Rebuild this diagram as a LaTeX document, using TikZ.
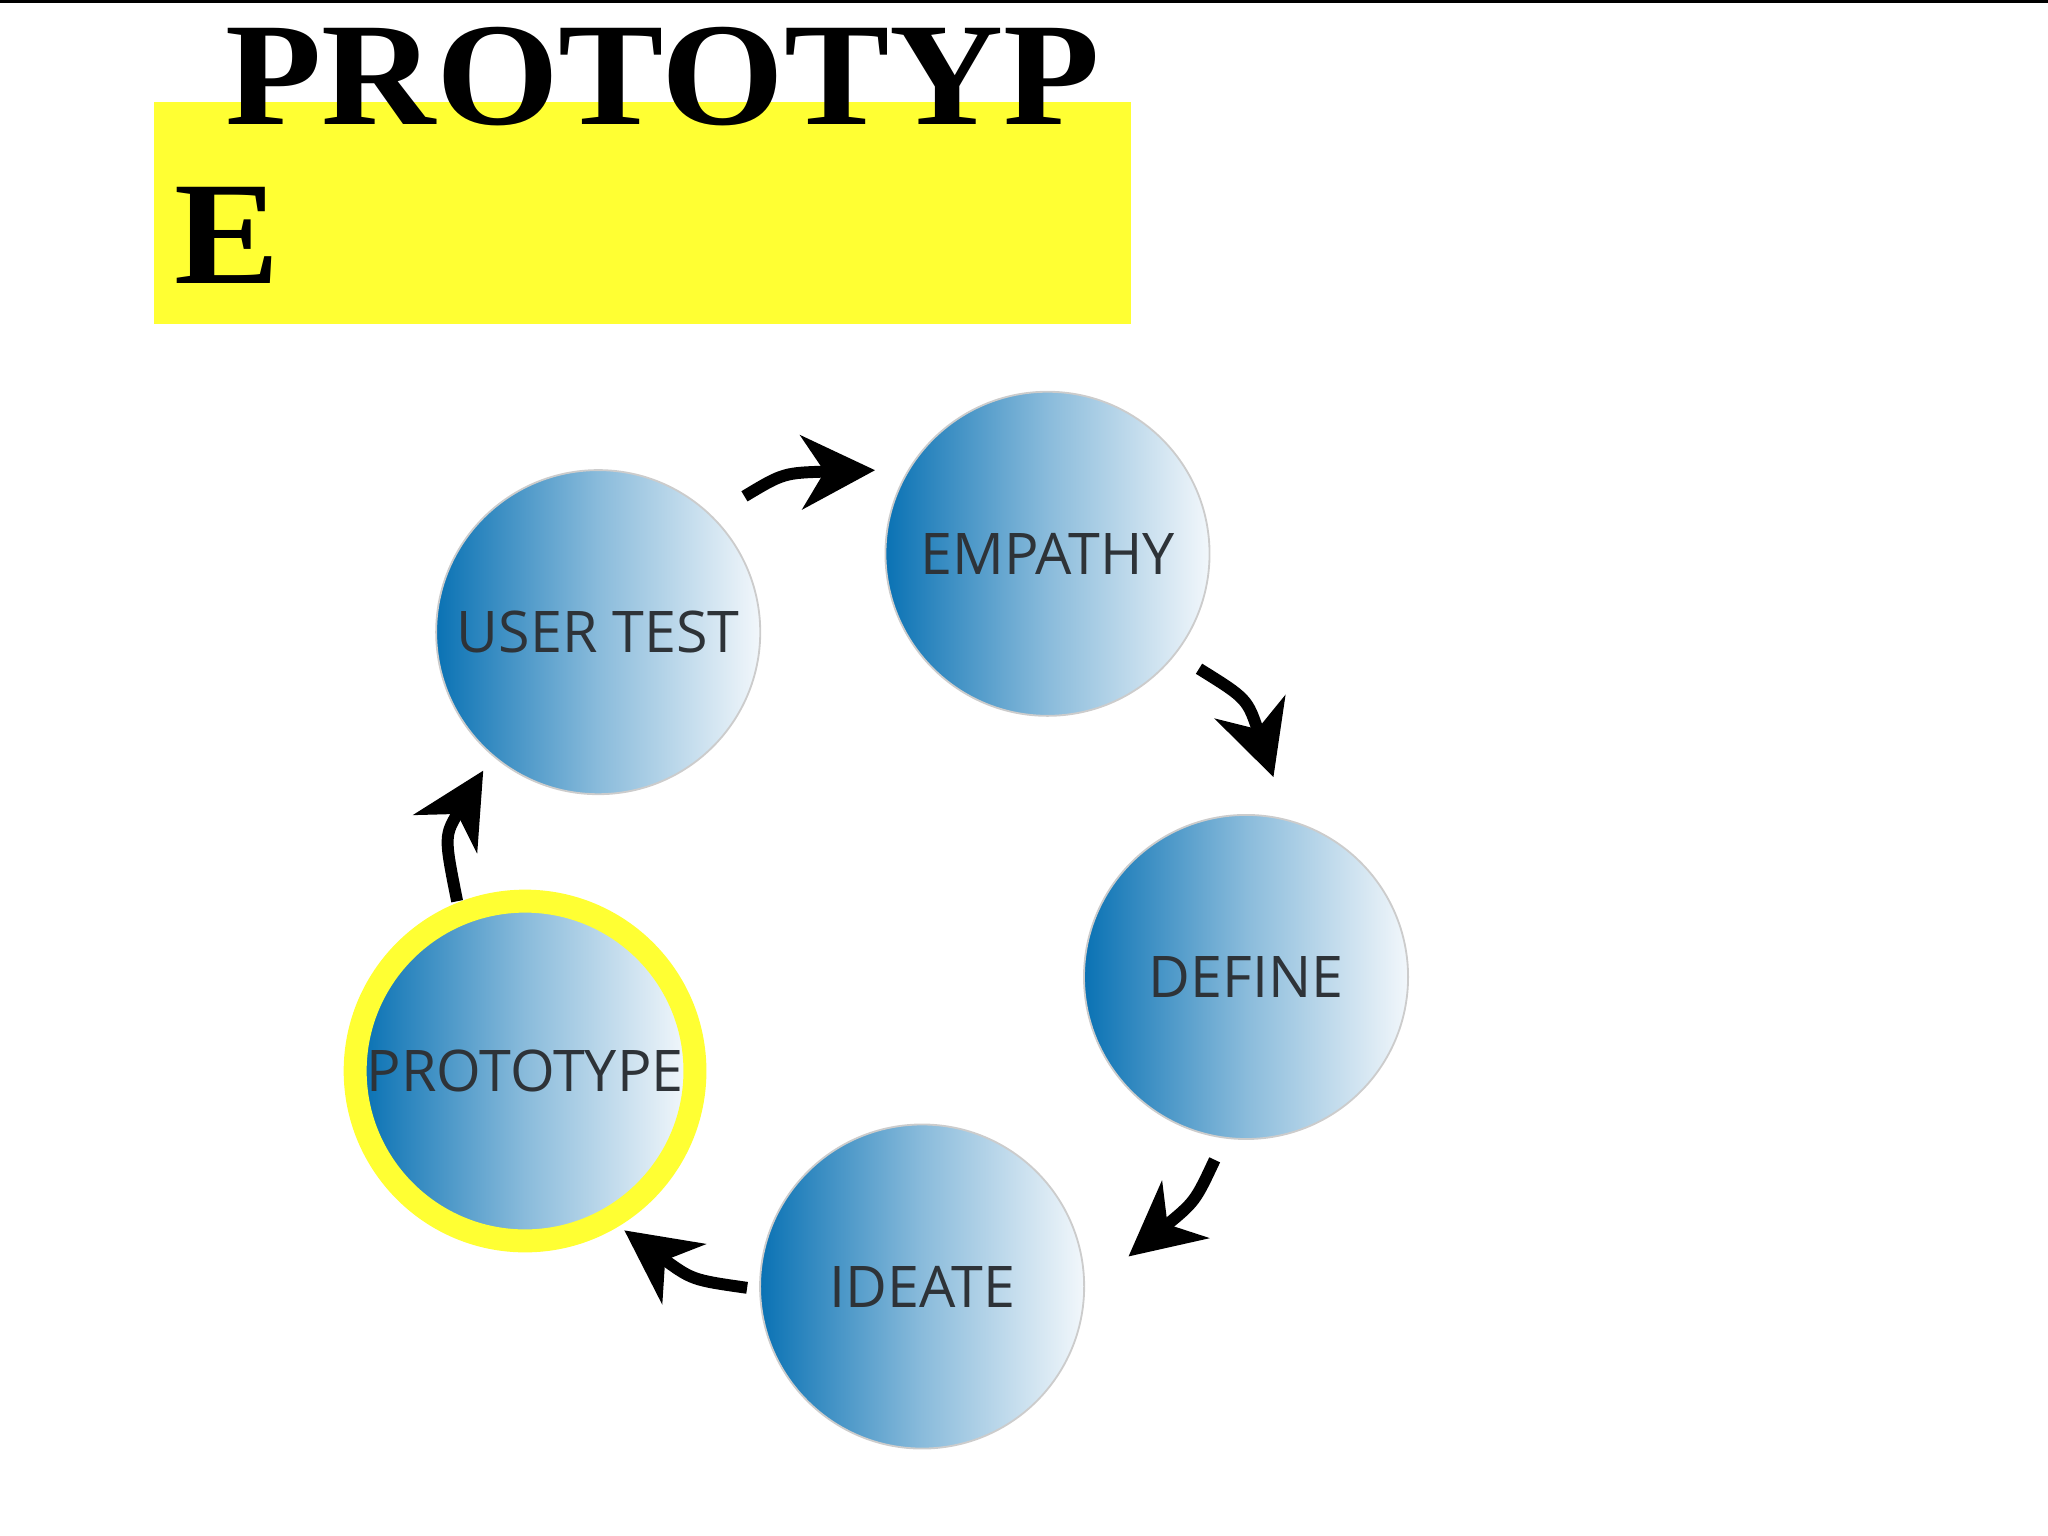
\documentclass[tikz,border=0pt]{standalone}
\usepackage{fontspec}
\setmainfont{Liberation Serif}
\newfontfamily\circfont{Open Sans}
\usetikzlibrary{arrows.meta}
\definecolor{dblue}{HTML}{0A72B4}
\definecolor{lblue}{HTML}{F2F7FB}
\definecolor{txt}{HTML}{2E3338}
\definecolor{yel}{HTML}{FFFF33}
\tikzset{
  ball/.style={circle,minimum size=2.48cm,inner sep=0pt,draw=gray!40,line width=0.4pt,
    left color=dblue,right color=lblue,middle color=dblue!45!lblue,
    font=\circfont\fontsize{12.5}{12.5}\selectfont,text=txt},
  flow/.style={line width=2.6pt,-{Stealth[length=16pt,width=16pt,inset=5pt]},black},
  ttl/.style={anchor=base west,inner sep=0pt,font=\bfseries\fontsize{40}{40}\selectfont,xscale=0.86,yscale=0.8}
}
\begin{document}
\begin{tikzpicture}[x=0.01cm,y=-0.01cm]
\useasboundingbox (0,0) rectangle (1568,1176);
\draw[line width=0.8pt] (0,1) -- (1568,1);
\fill[yel] (118,78) rectangle (866,248);
\node[ttl] (t1) at (172,95) {PROTOTYP};
\node[ttl] (t2) at (133,217) {E};
\node[ball] (ut) at (458,484) {USER TEST};
\node[ball] (em) at (802,424) {EMPATHY};
\node[ball] (de) at (954,748) {DEFINE};
\node[ball] (id) at (706,985) {IDEATE};
\node[ball] (pr) at (402,820) {PROTOTYPE};
\draw[yel,line width=5pt] (pr.center) circle[radius=1.3cm];
\coordinate (a1) at (570,380); \coordinate (b1) at (670,360);
\coordinate (a2) at (918,512); \coordinate (b2) at (975,595);
\coordinate (a3) at (930,888); \coordinate (b3) at (864,962);
\coordinate (a4) at (572,986); \coordinate (b4) at (478,942);
\coordinate (a5) at (350,690); \coordinate (b5) at (370,590);
\draw[flow] (a1) .. controls (600,362) .. (b1);
\draw[flow] (a2) .. controls (955,535) .. (b2);
\draw[flow] (a3) .. controls (915,920) .. (b3);
\draw[flow] (a4) .. controls (530,980) .. (b4);
\draw[flow] (a5) .. controls (340,640) .. (b5);
\end{tikzpicture}
\end{document}
